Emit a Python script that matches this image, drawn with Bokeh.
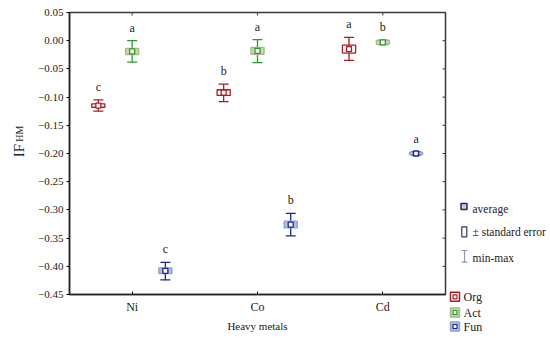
from math import pi
from bokeh.plotting import figure
from bokeh.models import (ColumnDataSource, Range1d, FactorRange, CustomJSTickFormatter, FixedTicker)
from bokeh.transform import dodge
from bokeh.layouts import row
from bokeh.core.properties import value
from bokeh.embed import file_html
from bokeh.resources import INLINE

FONT = "Liberation Serif"
H = 336

metals = ["Ni", "Co", "Cd"]
groups = ["Org", "Act", "Fun"]
y_ticks = [0.05, 0.0, -0.05, -0.10, -0.15, -0.20, -0.25, -0.30, -0.35, -0.40, -0.45]

org_mean = [-0.115, -0.092, -0.015]
org_se = [0.003, 0.005, 0.007]
org_min = [-0.125, -0.108, -0.035]
org_max = [-0.105, -0.077, 0.006]
org_letters = ["c", "b", "a"]

act_mean = [-0.019, -0.018, -0.003]
act_se = [0.0055, 0.006, 0.0035]
act_min = [-0.038, -0.039, -0.007]
act_max = [0.000, 0.002, 0.001]
act_letters = ["a", "a", "b"]

fun_mean = [-0.408, -0.326, -0.200]
fun_se = [0.005, 0.006, 0.002]
fun_min = [-0.424, -0.346, -0.203]
fun_max = [-0.393, -0.306, -0.197]
fun_letters = ["c", "b", "a"]

offsets = {"Org": -0.27, "Act": 0.0, "Fun": 0.265}
line_colors = {"Org": "#a61e22", "Act": "#2b9a2b", "Fun": "#1f2396"}
box_fill = {"Org": "white", "Act": "#c5d6ae", "Fun": "#a9bfe3"}
box_line = {"Org": "#a61e22", "Act": "#a3bd8a", "Fun": "#8ea5cf"}

series = {
    "Org": (org_mean, org_se, org_min, org_max, org_letters),
    "Act": (act_mean, act_se, act_min, act_max, act_letters),
    "Fun": (fun_mean, fun_se, fun_min, fun_max, fun_letters),
}

# ---- y-axis title panel ----
lf = figure(width=30, height=H, x_range=Range1d(0, 30), y_range=Range1d(0, H),
            output_backend="svg", toolbar_location=None, x_axis_location=None,
            y_axis_location=None, min_border=0, frame_align=False)
lf.xgrid.visible = False
lf.ygrid.visible = False
lf.outline_line_color = None
lf.text(x=[18], y=[H - 156.7], text=["IF"], angle=pi / 2, text_align="left",
        text_baseline="alphabetic", text_font=value(FONT), text_font_size="15px",
        text_color="#222")
lf.text(x=[19], y=[H - 141.2], text=["HM"], angle=pi / 2, text_align="left",
        text_baseline="alphabetic", text_font=value(FONT), text_font_size="10px",
        text_color="#222")

# ---- main plot ----
p = figure(width=417, height=H, x_range=FactorRange(factors=metals),
           y_range=Range1d(-0.45, 0.05), output_backend="svg", toolbar_location=None,
           min_border_left=39, min_border_right=2, min_border_top=12, min_border_bottom=42,
           frame_align=False)
p.xgrid.visible = False
p.ygrid.visible = False
p.outline_line_color = "#3a3a3a"
p.outline_line_width = 1.5
p.background_fill_color = "white"

fmt = CustomJSTickFormatter(code="""
const v = Math.abs(tick) < 1e-9 ? 0 : tick;
const s = Math.abs(v).toFixed(2);
return (v < 0 ? '\u2212' : '') + s;
""")
p.yaxis.ticker = FixedTicker(ticks=y_ticks)
p.yaxis.formatter = fmt
p.yaxis.major_tick_out = 3
p.yaxis.major_tick_in = 0
p.yaxis.minor_tick_out = 0
p.yaxis.minor_tick_in = 0
p.yaxis.major_label_standoff = 3
p.yaxis.major_label_text_font = FONT
p.yaxis.major_label_text_font_size = "11px"
p.yaxis.major_label_text_color = "#222"
p.yaxis.axis_line_width = 1.5
p.yaxis.axis_line_color = "#222"

p.xaxis.major_tick_out = 0
p.xaxis.major_tick_in = 3
p.xaxis.major_label_standoff = 5
p.xaxis.major_label_text_font = FONT
p.xaxis.major_label_text_font_size = "12px"
p.xaxis.major_label_text_color = "#222"
p.xaxis.axis_line_width = 1.5
p.xaxis.axis_line_color = "#222"
p.xaxis.axis_label = "Heavy metals"
p.xaxis.axis_label_text_font = FONT
p.xaxis.axis_label_text_font_size = "11px"
p.xaxis.axis_label_text_font_style = "normal"
p.xaxis.axis_label_text_color = "#222"
p.xaxis.axis_label_standoff = 3

# inward ticks on top and right frame edges
top_src = ColumnDataSource(dict(metal=metals, y=[y_ticks[0]] * len(metals)))
p.scatter(x="metal", y="y", source=top_src, marker="dash", angle=pi / 2, size=6,
          line_color="#3a3a3a", line_width=1)
right_src = ColumnDataSource(dict(metal=[metals[-1]] * len(y_ticks), y=y_ticks))
p.scatter(x=dodge("metal", 0.5, range=p.x_range), y="y", source=right_src, marker="dash",
          size=6, line_color="#3a3a3a", line_width=1)

for g in groups:
    mean, se, mn, mx, letters = series[g]
    src = ColumnDataSource(dict(
        metal=metals, mean=mean, mn=mn, mx=mx, letter=letters,
        top=[m + s for m, s in zip(mean, se)],
        bottom=[m - s for m, s in zip(mean, se)],
    ))
    xd = dodge("metal", offsets[g], range=p.x_range)
    c = line_colors[g]
    p.segment(x0=xd, y0="mn", x1=xd, y1="mx", source=src, line_color=c, line_width=1.3)
    p.scatter(x=xd, y="mn", source=src, marker="dash", size=10, line_color=c, line_width=1.3)
    p.scatter(x=xd, y="mx", source=src, marker="dash", size=10, line_color=c, line_width=1.3)
    p.vbar(x=xd, top="top", bottom="bottom", width=0.105, source=src,
           fill_color=box_fill[g], line_color=box_line[g], line_width=1.3)
    p.scatter(x=xd, y="mean", source=src, marker="square", size=5, fill_color="white",
              line_color=c, line_width=1.3)
    p.text(x=xd, y="mx", text="letter", source=src, text_align="center",
           text_baseline="middle", y_offset=-13, text_font=value(FONT),
           text_font_size="12px", text_color="#222")

# ---- legend panel ----
q = figure(width=101, height=H, x_range=Range1d(0, 101), y_range=Range1d(0, H),
           output_backend="svg", toolbar_location=None, x_axis_location=None,
           y_axis_location=None, min_border=0, frame_align=False)
q.xgrid.visible = False
q.ygrid.visible = False
q.outline_line_color = None

q.scatter(x=[16.5], y=[H - 206], marker="square", size=6, fill_color="#c8d0e0",
          line_color="#1f2d5a", line_width=1.5)
q.rect(x=[16.8], y=[H - 231.3], width=5, height=10, fill_color=None, line_color="#2d3a5a",
       line_width=1.2)
q.segment(x0=[17], y0=[H - 250], x1=[17], y1=[H - 261.7], line_color="#8899bb", line_width=1.2)
q.scatter(x=[17, 17], y=[H - 250, H - 261.7], marker="dash", size=6, line_color="#8899bb",
          line_width=1.2)
q.text(x=[25, 25, 25], y=[H - 208, H - 231, H - 257.3],
       text=["average", "\u00b1 standard error", "min-max"],
       text_align="left", text_baseline="middle", text_font=value(FONT),
       text_font_size="11.5px", text_color="#222")

leg_y = [H - 296.3, H - 312, H - 326]
for g, yy in zip(groups, leg_y):
    q.scatter(x=[7.5], y=[yy], marker="square", size=9, fill_color=box_fill[g],
              line_color=line_colors[g] if g == "Org" else box_line[g], line_width=1.5)
    q.scatter(x=[7.5], y=[yy], marker="square", size=4, fill_color="white",
              line_color=line_colors[g], line_width=1.2)
q.text(x=[16, 16, 16], y=leg_y, text=groups, text_align="left", text_baseline="middle",
       text_font=value(FONT), text_font_size="12px", text_color="#222")

layout = row(lf, p, q)
open("out.html", "w").write(file_html(layout, INLINE))
